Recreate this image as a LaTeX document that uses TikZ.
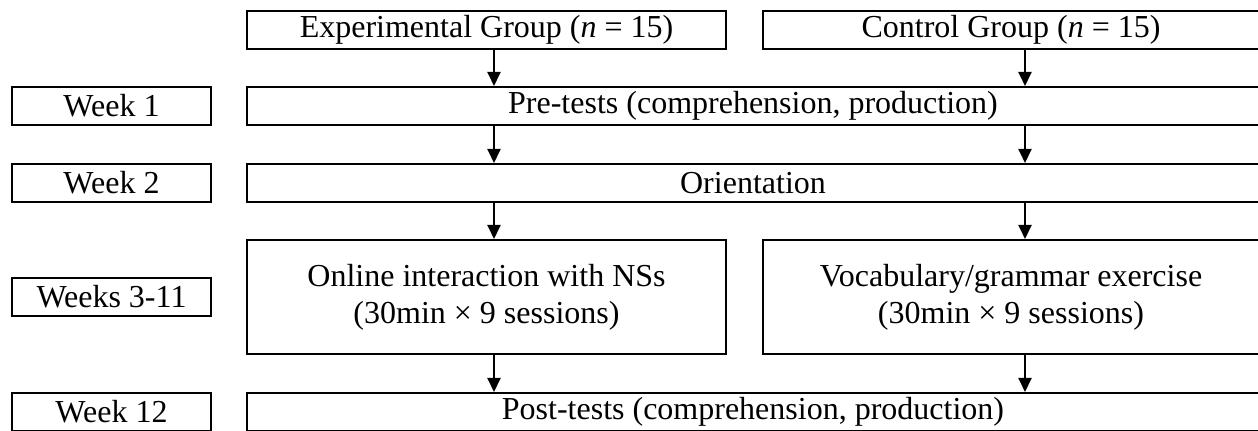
\documentclass[tikz,border=0pt]{standalone}
\usepackage{fontspec}
\setmainfont{Liberation Serif}
\usetikzlibrary{arrows.meta}

\begin{document}
\begin{tikzpicture}[x=0.5pt, y=-0.5pt,
  box/.style={draw, line width=1pt, inner sep=0pt, align=center, font=\fontsize{16}{18.5}\selectfont},
  arr/.style={line width=1pt, -{Triangle[length=7pt, width=6.5pt]}}]
  \useasboundingbox (0,0) rectangle (1258,431);
  % x positions of the two arrow columns
  \coordinate (ax) at (494,0);
  \coordinate (cx) at (1025,0);

  % Group boxes on top
  \node[box, minimum width=239.5pt, minimum height=19pt] (exp) at (486.5,30) {Experimental Group (\textit{n} = 15)};
  \node[box, minimum width=248pt, minimum height=19pt] (ctl) at (1011,30) {Control Group (\textit{n} = 15)};

  % Week labels on the left
  \node[box, minimum width=99.5pt, minimum height=19pt] (wk1) at (111.5,106) {Week 1};
  \node[box, minimum width=99.5pt, minimum height=19pt] (wk2) at (111.5,183) {Week 2};
  \node[box, minimum width=99.5pt, minimum height=19pt] (wk3) at (111.5,297) {Weeks 3-11};
  \node[box, minimum width=99.5pt, minimum height=19pt] (wk12) at (111.5,412) {Week 12};

  % Steps
  \node[box, minimum width=506pt, minimum height=19pt] (pre) at (753,106) {Pre-tests (comprehension, production)};
  \node[box, minimum width=506pt, minimum height=19pt] (ori) at (753,183) {Orientation};
  \node[box, minimum width=239.5pt, minimum height=57pt] (onl) at (486.5,297) {Online interaction with NSs\\(30min × 9 sessions)};
  \node[box, minimum width=248pt, minimum height=57pt] (voc) at (1011,297) {Vocabulary/grammar exercise\\(30min × 9 sessions)};
  \node[box, minimum width=506pt, minimum height=19pt] (post) at (753,412) {Post-tests (comprehension, production)};

  % Arrows
  \draw[arr] (exp.south -| ax) -- (pre.north -| ax);
  \draw[arr] (ctl.south -| cx) -- (pre.north -| cx);
  \draw[arr] (pre.south -| ax) -- (ori.north -| ax);
  \draw[arr] (pre.south -| cx) -- (ori.north -| cx);
  \draw[arr] (ori.south -| ax) -- (onl.north -| ax);
  \draw[arr] (ori.south -| cx) -- (voc.north -| cx);
  \draw[arr] (onl.south -| ax) -- (post.north -| ax);
  \draw[arr] (voc.south -| cx) -- (post.north -| cx);
\end{tikzpicture}
\end{document}
